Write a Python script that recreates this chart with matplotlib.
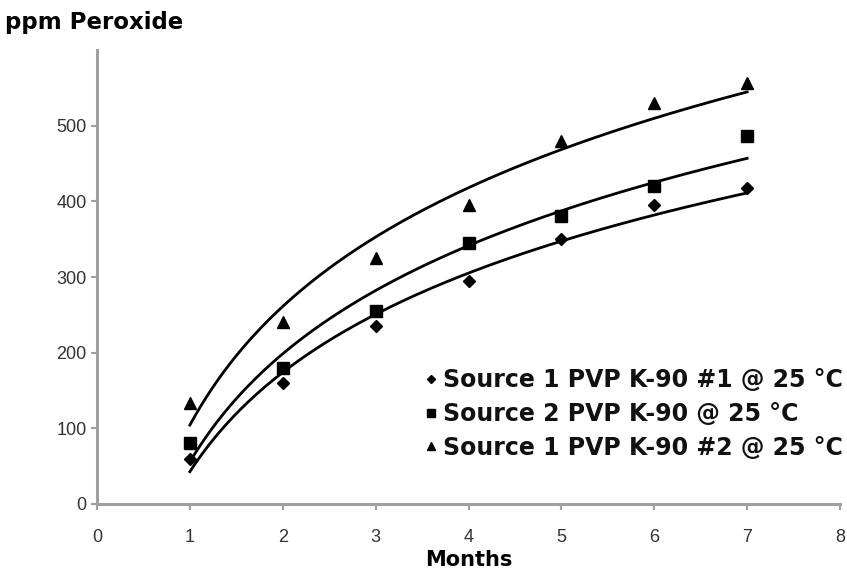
import numpy as np
import matplotlib
matplotlib.use("Agg")
import matplotlib.pyplot as plt

plt.rcParams['font.family'] = ['Liberation Sans', 'DejaVu Sans']

months = [1, 2, 3, 4, 5, 6, 7]
src1_no1 = [60, 160, 235, 295, 350, 395, 418]
src2 = [80, 180, 255, 345, 380, 420, 487]
src1_no2 = [133, 240, 325, 395, 480, 530, 556]

labels = ["Source 1 PVP K-90 #1 @ 25 \u00b0C",
          "Source 2 PVP K-90 @ 25 \u00b0C",
          "Source 1 PVP K-90 #2 @ 25 \u00b0C"]
series = [src1_no1, src2, src1_no2]
markers = ["D", "s", "^"]
msizes = [6, 8, 8]

xticks = [0, 1, 2, 3, 4, 5, 6, 7, 8]
yticks = [0, 100, 200, 300, 400, 500]

fig = plt.figure(figsize=(8.47, 5.70), dpi=100)
ax = fig.add_axes([97/847, 66/570, 743/847, 454/570])

x = np.array(months, dtype=float)
xs = np.linspace(1, 7, 200)
handles = []
for ys, m, ms, lab in zip(series, markers, msizes, labels):
    a, b = np.polyfit(np.log(x), np.array(ys, dtype=float), 1)
    ax.plot(xs, a*np.log(xs) + b, color='black', lw=2.0, zorder=2)
    h, = ax.plot(months, ys, linestyle='none', marker=m, ms=ms, color='black',
                 markeredgecolor='black', zorder=3, label=lab)
    handles.append(h)

ax.set_xlim(0, 8)
ax.set_ylim(0, 600)
ax.set_xticks(xticks)
ax.set_yticks(yticks)
for s in ['top', 'right']:
    ax.spines[s].set_visible(False)
for s in ['left', 'bottom']:
    ax.spines[s].set_color('#a0a0a0')
    ax.spines[s].set_linewidth(2.2)
ax.tick_params(axis='both', colors='#a0a0a0', length=4, width=1.5, labelsize=13,
               labelcolor='#333333')
ax.tick_params(axis='x', pad=14)

ax.set_xlabel("Months", fontsize=15, fontweight='bold', family='DejaVu Sans',
              labelpad=3)
fig.text(5/847, 1 - 22/570, "ppm Peroxide", fontsize=16.5, fontweight='bold',
         family='DejaVu Sans', ha='left', va='center')

leg = ax.legend(handles=handles, loc='center left',
                bbox_to_anchor=((425 - 97)/743, (504 - 414)/454),
                frameon=False, prop={'family': 'DejaVu Sans', 'weight': 'bold', 'size': 17},
                handlelength=0.5, handletextpad=0.25,
                labelspacing=0.41, borderaxespad=0, borderpad=0, markerscale=0.75)
for t in leg.get_texts():
    t.set_color('#111111')

fig.savefig("out.png", dpi=100, facecolor='white')
